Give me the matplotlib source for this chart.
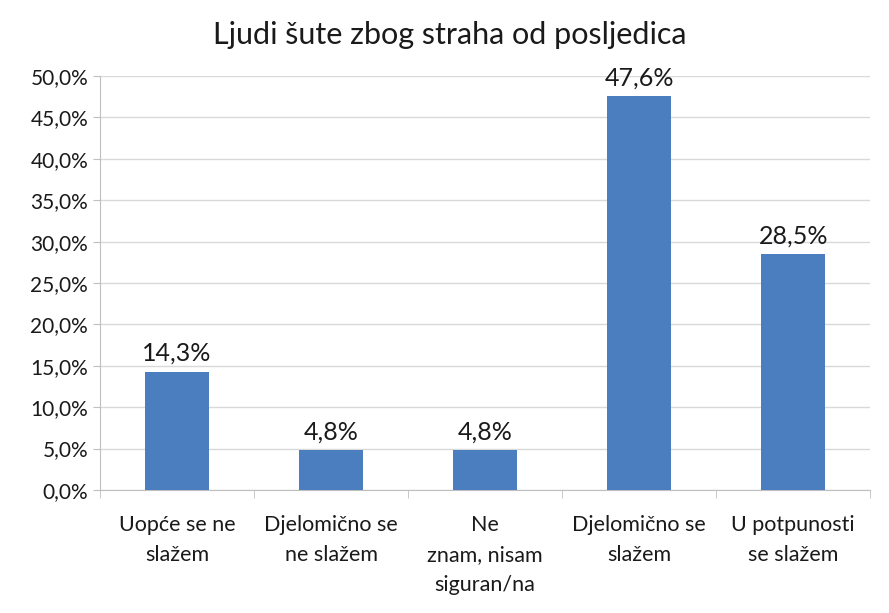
import matplotlib.pyplot as plt
from matplotlib.ticker import FuncFormatter, FixedLocator

plt.rcParams['font.family'] = ['Lato', 'DejaVu Sans']

categories = ['Uopće se ne\nslažem', 'Djelomično se\nne slažem', 'Ne\nznam, nisam\nsiguran/na',
              'Djelomično se\nslažem', 'U potpunosti\nse slažem']
values = [14.3, 4.8, 4.8, 47.6, 28.5]
title = 'Ljudi šute zbog straha od posljedica'

fig = plt.figure(figsize=(8.89, 6.13), dpi=100)
ax = fig.add_axes([0.1125, 0.2007, 0.8665, 0.6753])

x = range(len(values))
ax.bar(x, values, width=0.415, color='#4A7EBF', zorder=3)
for i, v in zip(x, values):
    ax.text(i, v + 0.8, f'{v:.1f}%'.replace('.', ','), ha='center', va='bottom',
            fontsize=18, color='#1a1a1a')

ax.set_xlim(-0.5, len(values) - 0.5)
ax.set_ylim(0, 50)
ax.set_yticks([i * 5 for i in range(11)])
ax.yaxis.set_major_formatter(FuncFormatter(lambda v, p: f'{v:.1f}%'.replace('.', ',')))
ax.grid(axis='y', color='#d9d9d9', linewidth=1, zorder=0)

ax.set_xticks(list(x))
ax.set_xticklabels(categories, fontsize=15.5, color='#1a1a1a', linespacing=1.62)
ax.tick_params(axis='x', length=0, pad=18)
ax.xaxis.set_minor_locator(FixedLocator([i + 0.5 for i in range(-1, len(values))]))
ax.tick_params(axis='x', which='minor', length=6, color='#bfbfbf')
ax.tick_params(axis='y', length=5, color='#bfbfbf', labelsize=15, labelcolor='#1a1a1a')

for s in ['top', 'right']:
    ax.spines[s].set_visible(False)
for s in ['left', 'bottom']:
    ax.spines[s].set_color('#bfbfbf')

fig.text(0.506, 0.943, title, ha='center', va='center', fontsize=22, color='#1a1a1a')

fig.savefig('out.png')
